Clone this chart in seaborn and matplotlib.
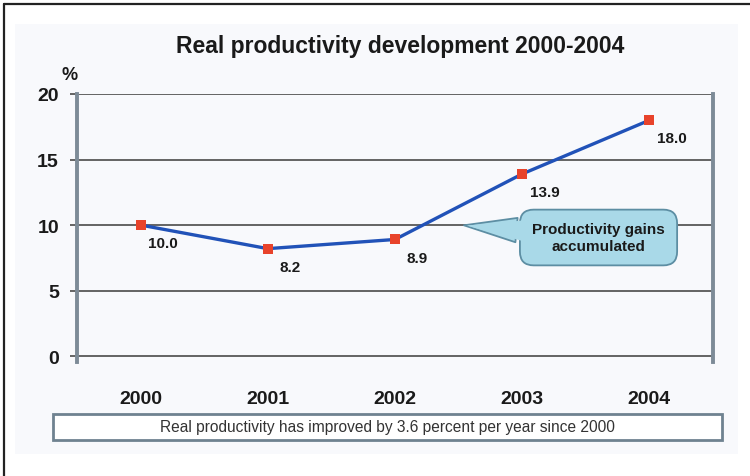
import matplotlib
matplotlib.use("Agg")
import matplotlib.pyplot as plt
from matplotlib.patches import Rectangle
from matplotlib.lines import Line2D
import seaborn as sns
import pandas as pd

# Data
years = ["2000", "2001", "2002", "2003", "2004"]
productivity = [10.0, 8.2, 8.9, 13.9, 18.0]
value_labels = ["10.0", "8.2", "8.9", "13.9", "18.0"]
y_ticks = [0, 5, 10, 15, 20]

title = "Real productivity development 2000-2004"
unit_label = "%"
callout_text = "Productivity gains\naccumulated"
footer_text = "Real productivity has improved by 3.6 percent per year since 2000"

sns.set_theme(style="white")
NARROW = ["Liberation Sans Narrow", "Liberation Sans", "DejaVu Sans"]
plt.rcParams["font.family"] = NARROW

df = pd.DataFrame({"pos": range(len(years)), "year": years, "value": productivity})

fig = plt.figure(figsize=(7.5, 4.77), dpi=100)
fig.patch.set_facecolor("white")

# Faint panel background and the outer frame lines
fig.add_artist(Rectangle((15 / 750, 1 - 455 / 477), 723 / 750, 430 / 477,
                         transform=fig.transFigure, fc="#f8f9fc", ec="none", zorder=0))
fig.add_artist(Line2D([4 / 750, 1.0], [1 - 5 / 477, 1 - 5 / 477],
                      transform=fig.transFigure, color="#222222", lw=1.6))
fig.add_artist(Line2D([4 / 750, 4 / 750], [1 - 5 / 477, 0.0],
                      transform=fig.transFigure, color="#222222", lw=1.6))

ax = fig.add_axes([77 / 750, 1 - 363 / 477, 636 / 750, 268 / 477])
ax.set_facecolor("none")

sns.lineplot(data=df, x="pos", y="value", ax=ax, color="#2152b8", lw=2.4,
             zorder=3, legend=False)
sns.scatterplot(data=df, x="pos", y="value", ax=ax, marker="s", s=60,
                color="#e8432b", edgecolor="#e8432b", linewidth=0, zorder=4,
                legend=False)

for i, (v, lab) in enumerate(zip(productivity, value_labels)):
    ax.annotate(lab, (i, v), xytext=(16, -13), textcoords="offset points",
                ha="center", va="center", fontsize=11, fontweight="bold",
                color="#1a1a1a", zorder=5)

ax.set_xlim(-0.5, len(years) - 0.5)
ax.set_ylim(-0.45, 20)
ax.set_yticks(y_ticks)
ax.set_yticklabels([str(t) for t in y_ticks])
ax.set_xticks(range(len(years)))
ax.set_xticklabels(years)
ax.set_xlabel("")
ax.set_ylabel("")

ax.yaxis.grid(True, color="#4a4a4a", lw=1.2)
ax.xaxis.grid(False)
ax.set_axisbelow(True)
for side in ("top", "bottom"):
    ax.spines[side].set_visible(False)
for side in ("left", "right"):
    ax.spines[side].set_color("#7d8b97")
    ax.spines[side].set_linewidth(2.8)

ax.tick_params(axis="y", which="major", left=True, length=5, width=1.2,
               color="#4a4a4a", pad=8, labelsize=14, labelcolor="#1a1a1a")
ax.tick_params(axis="x", which="major", bottom=False, pad=14,
               labelsize=14, labelcolor="#1a1a1a")
for lab in ax.get_yticklabels() + ax.get_xticklabels():
    lab.set_fontweight("bold")

# Callout pointing at the 10 % line
CALLOUT_FC = "#a9d9e8"
CALLOUT_EC = "#5d8ea3"
tip = (2.52, 10.0)
box_center = (3.6, 9.05)
ax.annotate(callout_text, xy=tip, xytext=box_center,
            textcoords="data", ha="center", va="center", fontsize=11,
            fontweight="bold", color="#1a1a1a", linespacing=1.3, zorder=6,
            bbox=dict(boxstyle="round,pad=0.8,rounding_size=0.9",
                      fc=CALLOUT_FC, ec=CALLOUT_EC, lw=1.3),
            arrowprops=dict(arrowstyle="wedge,tail_width=1.6,shrink_factor=0.5",
                            fc=CALLOUT_FC, ec=CALLOUT_EC, lw=1.3))
# Fill-only copy of the pointer, laid over the box outline so they blend
reach = 0.56
t = reach / (box_center[0] - tip[0])
inner = (box_center[0] - reach, box_center[1] + t * (tip[1] - box_center[1]))
ax.annotate("", xy=tip, xytext=inner, textcoords="data", fontsize=11,
            zorder=6.5,
            arrowprops=dict(arrowstyle="wedge,tail_width=1.45,shrink_factor=0.5",
                            fc=CALLOUT_FC, ec="none", lw=0,
                            shrinkA=0, shrinkB=4))

fig.text(400 / 750, 1 - 47 / 477, title, ha="center", va="center",
         fontsize=16.5, fontweight="bold", color="#1a1a1a")
fig.text(70 / 750, 1 - 76 / 477, unit_label, ha="center", va="center",
         fontsize=13, fontweight="bold", color="#1a1a1a")

# Footer note in a framed box
fig.add_artist(Rectangle((53 / 750, 1 - 441 / 477), 669 / 750, 26 / 477,
                         transform=fig.transFigure, fc="white", ec="#6f8290",
                         lw=2.0, zorder=2))
fig.text(387 / 750, 1 - 428 / 477, footer_text, ha="center", va="center",
         fontsize=11.2, color="#333333", zorder=3)

fig.savefig("out.png", dpi=100, facecolor="white")
